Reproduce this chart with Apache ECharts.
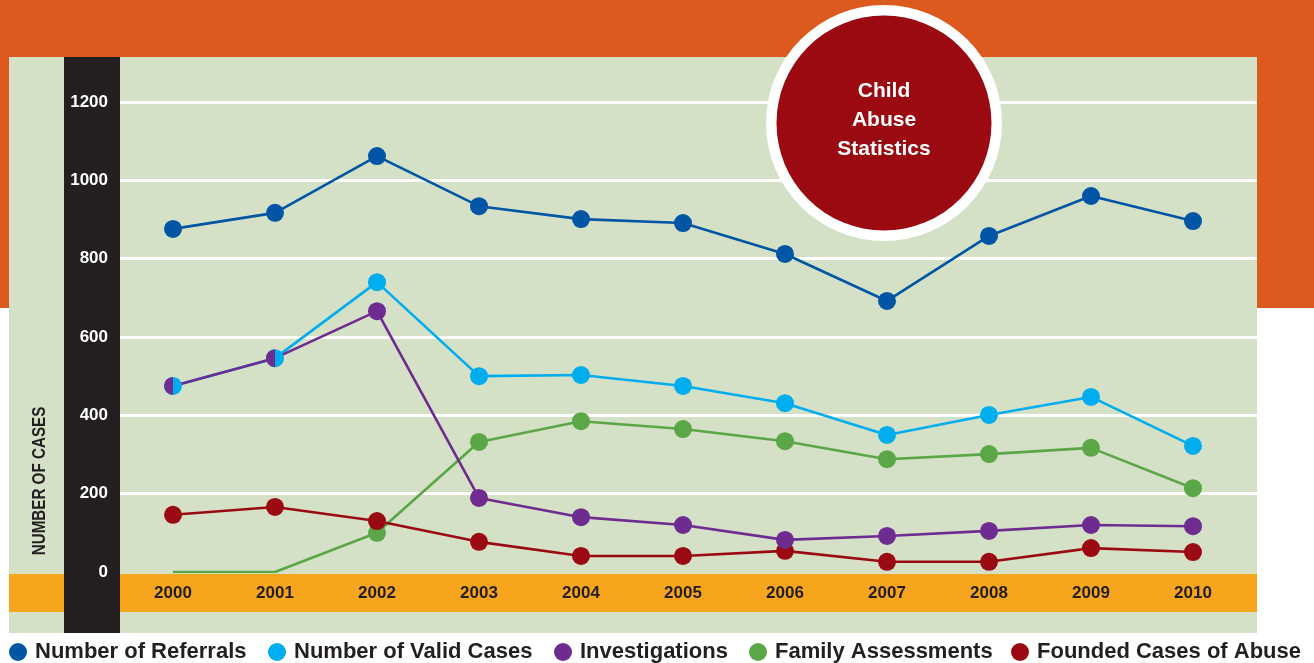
<!DOCTYPE html>
<html>
<head>
<meta charset="utf-8">
<script src="https://cdn.jsdelivr.net/npm/echarts@6/dist/echarts.min.js"></script>
<style>
html,body{margin:0;padding:0;background:#fff;}
#chart{width:1314px;height:663px;}
</style>
</head>
<body>
<div id="chart"></div>
<script>
// ---- data ----
var years = ['2000','2001','2002','2003','2004','2005','2006','2007','2008','2009','2010'];
var referrals       = [876, 917, 1062, 934, 901, 891, 812, 692, 858, 960, 896];
var validCases      = [475, 546, 740, 500, 503, 475, 431, 350, 401, 447, 322];
var investigations  = [475, 546, 666, 189, 140, 120, 82, 92, 105, 120, 117];
var familyAssess    = [0, 0, 100, 332, 385, 365, 334, 288, 301, 317, 214];
var foundedAbuse    = [146, 166, 130, 77, 41, 41, 54, 26, 26, 61, 51];
var yTicks = [0, 200, 400, 600, 800, 1000, 1200];
var seriesNames = ['Number of Referrals','Number of Valid Cases','Investigations','Family Assessments','Founded Cases of Abuse'];
var titleLines = ['Child','Abuse','Statistics'];
var yAxisTitle = 'NUMBER OF CASES';

// ---- style ----
var colors = {
  'Number of Referrals': '#0055a4',
  'Number of Valid Cases': '#00adee',
  'Investigations': '#6e2c90',
  'Family Assessments': '#5ba646',
  'Founded Cases of Abuse': '#9b0a12'
};
var sans = '"Liberation Sans",Arial,sans-serif';
var dark = '#231f20';

var chart = echarts.init(document.getElementById('chart'), null, {renderer:'canvas'});

function lineSeries(name, values) {
  return {
    name: name,
    type: 'line',
    xAxisIndex: 1,
    yAxisIndex: 1,
    data: values,
    symbol: 'circle',
    symbolSize: 18,
    showSymbol: true,
    showAllSymbol: true,
    lineStyle: { width: 2.6, color: colors[name] },
    itemStyle: { color: colors[name] },
    emphasis: { disabled: true },
    silent: true,
    z: 5
  };
}

// half circle marker (left half) for split points where two series share a value
var halfLeft = 'path://M50,0 A50,50 0 0,0 50,100 Z M100,50 L100,51';

var familyData = familyAssess.map(function (v, i) {
  return (i < 2) ? { value: v, symbol: 'none' } : v;
});
var investData = investigations.map(function (v, i) {
  return (investigations[i] === validCases[i]) ? { value: v, symbol: halfLeft, symbolKeepAspect: true } : v;
});

var legendLefts = [9, 268, 554, 749, 1011];
var legends = seriesNames.map(function (n, i) {
  return {
    data: [n],
    left: legendLefts[i],
    top: 641,
    padding: 0,
    icon: 'circle',
    itemWidth: 18,
    itemHeight: 18,
    selectedMode: false,
    textStyle: { fontSize: 22, fontWeight: 'bold', color: dark, fontFamily: sans, padding: [0,0,0,3] }
  };
});

var option = {
  animation: false,
  backgroundColor: '#ffffff',
  legend: legends,
  grid: [
    { left: 120, right: 57, top: 102, bottom: 91, containLabel: false },
    { left: 122, right: 70, top: 102, bottom: 91, containLabel: false }
  ],
  xAxis: [
    { gridIndex: 0, type: 'value', show: false, min: 0, max: 1 },
    {
      gridIndex: 1, type: 'category', data: years, boundaryGap: true,
      axisLine: { show: false }, axisTick: { show: false }, splitLine: { show: false },
      axisLabel: { color: dark, fontFamily: sans, fontWeight: 'bold', fontSize: 17, margin: 13 }
    }
  ],
  yAxis: [
    {
      gridIndex: 0, type: 'value', min: 0, max: 1200, interval: 200,
      axisLine: { show: false }, axisTick: { show: false },
      axisLabel: {
        color: '#ffffff', fontFamily: sans, fontWeight: 'bold', fontSize: 17, margin: 12,
        formatter: function (v) { return String(v); }
      },
      splitLine: { show: true, lineStyle: { width: 3, color: ['rgba(0,0,0,0)','#ffffff','#ffffff','#ffffff','#ffffff','#ffffff','#ffffff'] } }
    },
    { gridIndex: 1, type: 'value', min: 0, max: 1200, interval: 200, show: false }
  ],
  graphic: [
    { type: 'rect', z: -10, silent: true, shape: { x: 0, y: 0, width: 1314, height: 308 }, style: { fill: '#dc5a1e' } },
    { type: 'rect', z: -9, silent: true, shape: { x: 9, y: 57, width: 1248, height: 576 }, style: { fill: '#d4e1c6' } },
    { type: 'rect', z: -8, silent: true, shape: { x: 9, y: 574, width: 1248, height: 38 }, style: { fill: '#f6a51c' } },
    { type: 'rect', z: -7, silent: true, shape: { x: 64, y: 57, width: 56, height: 576 }, style: { fill: dark } },
    {
      type: 'text', z: 1, silent: true, x: 40, y: 481, rotation: Math.PI / 2, scaleX: 0.8,
      style: { text: yAxisTitle, fill: dark, font: 'bold 19px ' + sans, align: 'center', verticalAlign: 'middle' }
    },
    { type: 'circle', z: 50, silent: true, shape: { cx: 884, cy: 123, r: 118 }, style: { fill: '#ffffff' } },
    { type: 'circle', z: 51, silent: true, shape: { cx: 884, cy: 123, r: 107.5 }, style: { fill: '#9b0a10' } },
    {
      type: 'text', z: 52, silent: true, x: 884, y: 120,
      style: { text: titleLines.join('\n'), fill: '#ffffff', font: 'bold 21px ' + sans, lineHeight: 29, align: 'center', verticalAlign: 'middle' }
    }
  ],
  series: [
    lineSeries('Family Assessments', familyData),
    lineSeries('Founded Cases of Abuse', foundedAbuse),
    lineSeries('Number of Valid Cases', validCases),
    lineSeries('Investigations', investData),
    lineSeries('Number of Referrals', referrals)
  ]
};
chart.setOption(option);
</script>
</body>
</html>
